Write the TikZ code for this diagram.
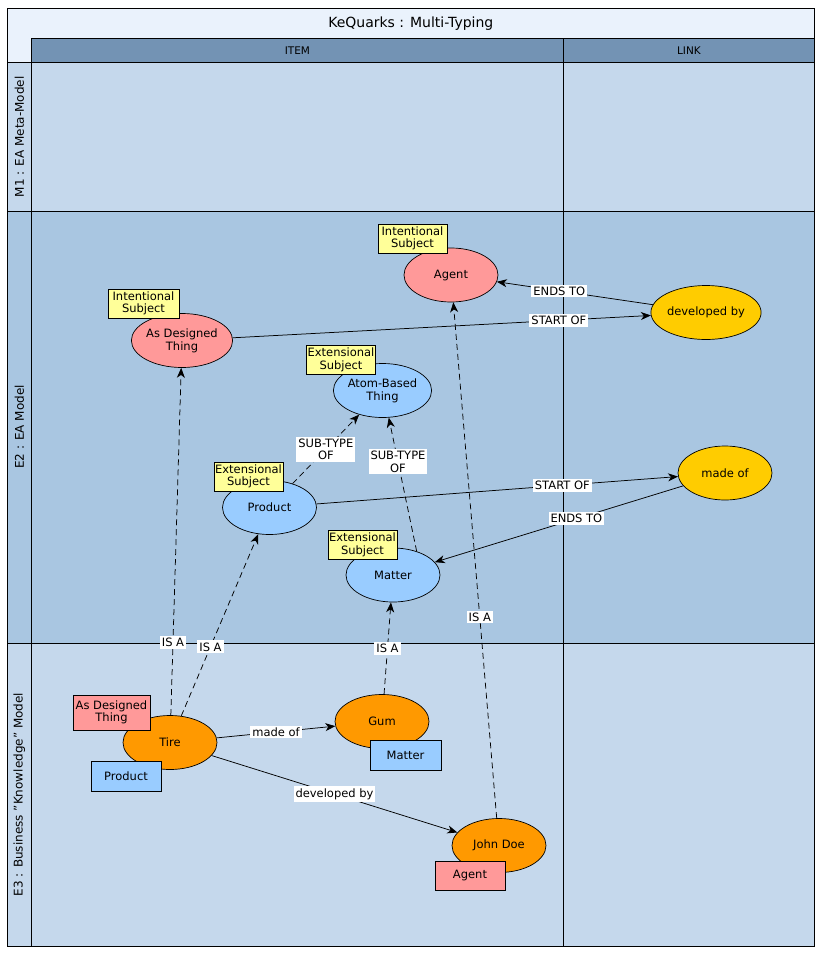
\documentclass[tikz,border=0pt]{standalone}
\usepackage{fontspec}
\setmainfont{DejaVu Sans}
\usetikzlibrary{arrows.meta,shapes.geometric}

\definecolor{titlebg}{RGB}{234,242,252}
\definecolor{headbg}{RGB}{115,147,180}
\definecolor{lanelight}{RGB}{197,216,236}
\definecolor{lanedark}{RGB}{169,198,225}
\definecolor{intent}{RGB}{255,153,153}
\definecolor{extens}{RGB}{153,204,255}
\definecolor{instance}{RGB}{255,153,0}
\definecolor{relation}{RGB}{255,204,0}
\definecolor{note}{RGB}{255,255,153}

\begin{document}
\begin{tikzpicture}[x=1pt,y=-1pt]
			\tikzstyle{frame}=[draw=black,line width=0.9pt]
			\tikzstyle{item}= [
				ellipse, draw = black, line width = 0.7pt, align = center,
				inner sep = 0pt, minimum width = 94pt, minimum height = 54pt,
				font = \fontsize{11.5}{13}\selectfont
			]
			\tikzstyle{tag}= [
				rectangle, draw = black, line width = 0.7pt, align = center,
				inner sep = 1pt, minimum width = 69pt, minimum height = 29pt,
				font = \fontsize{11.5}{12.5}\selectfont
			]
			\tikzstyle{lbl}=[fill=white,inner sep=2pt,align=center,font=\fontsize{11.5}{12.5}\selectfont]
			\tikzstyle{rel}=[->,draw=black,>={Stealth[length=10pt,width=8pt,inset=3pt]},line width=0.75pt]
			\tikzstyle{isa}=[rel,dash pattern=on 6pt off 4pt]
			\useasboundingbox (0,0) rectangle (824,959);
			% swimlanes
			\fill[titlebg] (7.3,8) rectangle (814.3,62.3);
			\fill[headbg] (31.3,38.3) rectangle (814.3,62.3);
			\fill[lanelight] (7.3,62.3) rectangle (814.3,211);
			\fill[lanedark] (7.3,211) rectangle (814.3,643);
			\fill[lanelight] (7.3,643) rectangle (814.3,946);
			\draw[frame] (31.3,38.3) -- (814.3,38.3);
			\draw[frame] (7.3,62.3) -- (814.3,62.3);
			\draw[frame] (7.3,211) -- (814.3,211);
			\draw[frame] (7.3,643) -- (814.3,643);
			\draw[frame] (31.3,38.3) -- (31.3,946);
			\draw[frame] (563.5,38.3) -- (563.5,946);
			\draw[frame] (7.3,8) rectangle (814.3,946);
			\node[font=\fontsize{14}{16}\selectfont] (title) at (410.8,23.2) {KeQuarks : Multi-Typing};
			\node[font=\fontsize{10.5}{12}\selectfont] (colitem) at (297.4,50.3) {ITEM};
			\node[font=\fontsize{10.5}{12}\selectfont] (collink) at (688.9,50.3) {LINK};
			\node[rotate=90,font=\fontsize{12}{14}\selectfont] (lanem1) at (19.3,136.7) {M1 : EA Meta-Model};
			\node[rotate=90,font=\fontsize{12}{14}\selectfont] (lanee2) at (19.3,427) {E2 : EA Model};
			\node[rotate=90,font=\fontsize{12}{14}\selectfont] (lanee3) at (19.3,794.5) {E3 : Business "Knowledge" Model};
			% E2 : EA model
			\node[item,fill=intent] (agent) at (451,275) {Agent};
			\node[item,fill=intent] (adt) at (182,340.5) {As Designed\\Thing};
			\node[item,fill=extens] (atom) at (382.5,390.5) {Atom-Based\\Thing};
			\node[item,fill=extens] (product) at (269.5,507.5) {Product};
			\node[item,fill=extens] (matter) at (393,575) {Matter};
			\node[item,fill=relation] (devby) at (706,312.5) {developed by};
			\node[item,fill=relation] (madeof) at (725,473) {made of};
			% E3 : business model
			\node[item,fill=instance] (tire) at (170,742.5) {Tire};
			\node[item,fill=instance] (gum) at (382,721.5) {Gum};
			\node[item,fill=instance] (jd) at (499,845.5) {John Doe};
			\draw (devby) to node[lbl,pos=0.6] {ENDS TO} (agent) [rel];
			\draw (adt) to node[lbl,pos=0.78] {START OF} (devby) [rel];
			\draw (product) to node[lbl,pos=0.68] {START OF} (madeof) [rel];
			\draw (madeof) to node[lbl,pos=0.43] {ENDS TO} (matter) [rel];
			\draw (product) to node[lbl,pos=0.5] {SUB-TYPE\\OF} (atom) [isa];
			\draw (matter.45) to node[lbl,pos=0.67] {SUB-TYPE\\OF} (atom.-77) [isa];
			\draw (tire) to node[lbl,pos=0.21] {IS A} (adt) [isa];
			\draw (tire) to node[lbl,pos=0.38] {IS A} (product) [isa];
			\draw (gum) to node[lbl,pos=0.5] {IS A} (matter) [isa];
			\draw (jd) to node[lbl,pos=0.39] {IS A} (agent) [isa];
			\draw (tire) to node[lbl,pos=0.5] {made of} (gum) [rel];
			\draw (tire) to node[lbl,pos=0.5] {developed by} (jd) [rel];
			% typing tags
			\node[tag,fill=note] (tagagent) at (412.5,238.5) {Intentional\\Subject};
			\node[tag,fill=note,minimum width=71pt] (tagadt) at (143.5,303.5) {Intentional\\Subject};
			\node[tag,fill=note] (tagatom) at (341,360) {Extensional\\Subject};
			\node[tag,fill=note] (tagproduct) at (248.5,476.5) {Extensional\\Subject};
			\node[tag,fill=note] (tagmatter) at (362.5,545) {Extensional\\Subject};
			\node[tag,fill=intent,minimum width=77pt,minimum height=35pt] (tiretype1) at (111.5,712.5) {As Designed\\Thing};
			\node[tag,fill=extens,minimum width=70pt,minimum height=30pt] (tiretype2) at (126,776) {Product};
			\node[tag,fill=extens,minimum width=71pt,minimum height=30pt] (gumtype) at (405.5,755) {Matter};
			\node[tag,fill=intent,minimum width=70pt] (jdtype) at (470,875.5) {Agent};
		\end{tikzpicture}
\end{document}
